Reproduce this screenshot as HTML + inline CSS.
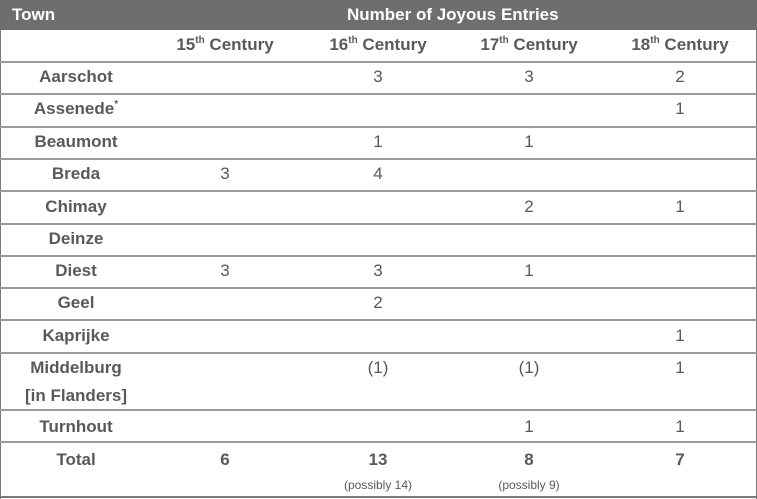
<!DOCTYPE html>
<html><head><meta charset="utf-8"><style>
body{margin:0;width:757px;height:499px;background:#fff;overflow:hidden;font-family:"Liberation Sans",sans-serif;color:#595959}
#t{position:absolute;left:0;top:0;width:757px;height:499px}
.hb{position:absolute;left:0;top:0;width:757px;height:30px;background:#6e6e6e}
.h{position:absolute;color:#fff;font-weight:bold;font-size:17px;top:5px}
.line{position:absolute;left:0;width:757px;height:2px;background:#9a9a9a}
.vl{position:absolute;top:30px;width:1px;height:469px;background:#7a7a7a}
.c{position:absolute;transform:translateX(-50%);white-space:nowrap;font-size:17px}
.b{font-weight:bold}
sup{font-size:10px;vertical-align:7px;line-height:0}
.s{font-size:12px}
</style></head><body>
<div id="t">
<div class="hb"></div>
<div class="h" style="left:12px">Town</div>
<div class="h" style="left:347px">Number of Joyous Entries</div>
<div class="vl" style="left:0"></div>
<div class="vl" style="left:756px"></div>
</div>
<script>
const cols=[225,378,529,680];
const centuries=["15","16","17","18"];
const towns=["Aarschot","Assenede","Beaumont","Breda","Chimay","Deinze","Diest","Geel","Kaprijke","Middelburg","Turnhout"];
const v15=["","","","3","","","3","","","",""];
const v16=["3","","1","4","","","3","2","","(1)",""];
const v17=["3","","1","","2","","1","","","(1)","1"];
const v18=["2","1","","","1","","","","1","1","1"];
const totals=["6","13","8","7"];
const totalNotes=["","(possibly 14)","(possibly 9)",""];
const lines=[62,94,127,159,191,224,256,288,320,353,410,442,497];
const t=document.getElementById('t');
function add(cls,x,y,html,name){const d=document.createElement('div');d.className=cls;d.style.left=x+'px';d.style.top=y+'px';d.innerHTML=html;


t.appendChild(d);return d;}
lines.forEach((y,i)=>{const l=add('line',0,y-1,'','row-line');l.style.background=i==lines.length-1?'#7a7a7a':'#9a9a9a';});
centuries.forEach((c,i)=>add('c b',cols[i],35,c+'<sup>th</sup> Century','century-header'));
const vals=[v15,v16,v17,v18];
const tops=[67,99,132,164,197,229,261,293,326,358,417];
towns.forEach((n,r)=>{
  add('c b',76,tops[r],n+(n=="Assenede"?'<sup>*</sup>':''),'town-name');
  vals.forEach((arr,i)=>{if(arr[r])add('c',cols[i],tops[r],arr[r],'entry-count');});
});
add('c b',76,386,'[in Flanders]','town-name-sub');
add('c b',76,450,'Total','total-label');
totals.forEach((v,i)=>add('c b',cols[i],450,v,'total-value'));
totalNotes.forEach((v,i)=>{if(v)add('c s',cols[i],478,v,'total-note');});
</script>
</body></html>
